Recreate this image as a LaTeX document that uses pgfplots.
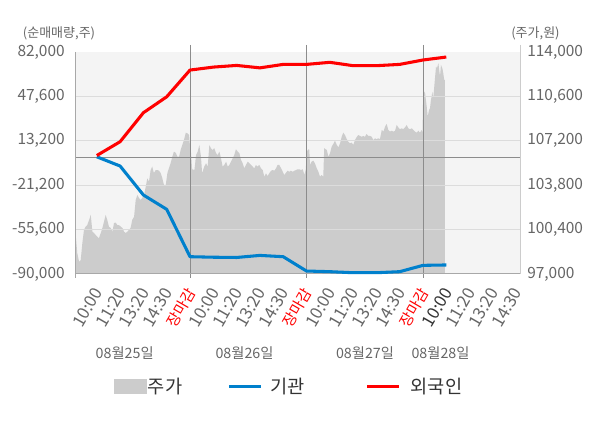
\documentclass[border=0pt]{standalone}
\usepackage{pgfplots}
\pgfplotsset{compat=1.18}
\usepackage{fontspec}
\setmainfont{Noto Sans CJK KR}
\definecolor{areagray}{HTML}{CCCCCC}
\definecolor{bggray}{HTML}{F4F4F4}
\definecolor{gridgray}{HTML}{DCDCDC}
\definecolor{sepgray}{HTML}{8C8C8C}
\definecolor{axgray}{HTML}{A8A8A8}
\definecolor{raxgray}{HTML}{CCCCCC}
\definecolor{labgray}{HTML}{666666}
\definecolor{darktext}{HTML}{333333}
\definecolor{instblue}{HTML}{0080CC}
\definecolor{forred}{HTML}{FF0000}
\newcommand{\ma}{{\color{forred}\fontsize{11.2pt}{13pt}\selectfont 장마감}}
\pgfplotsset{
  linelegend/.style={legend image code/.code={\draw[##1] (0pt,0pt) -- (24pt,0pt);}},
  boxlegend/.style={legend image code/.code={\fill[areagray] (0pt,-5.25pt) rectangle (24pt,5.25pt);}},
  base/.style={scale only axis, width=333pt, height=166.5pt,
  at={(57pt,115.5pt)}, anchor=south west, xmin=0.107, xmax=19.163,
  scaled y ticks=false, scaled x ticks=false,
  axis line style={draw=none}, tick style={draw=none}, major tick length=0pt}}
\begin{document}
\begin{tikzpicture}
\path[use as bounding box] (0,0) rectangle (450pt,321pt);
% price area (right axis)
\begin{axis}[base, ymin=97000, ymax=114000,
  axis background/.style={fill=bggray},
  xtick=\empty,
  ytick={97000,100400,103800,107200,110600,114000},
  yticklabels={{97,000},{100,400},{103,800},{107,200},{110,600},{114,000}},
  yticklabel pos=right,
  yticklabel style={anchor=west, inner sep=0pt, xshift=5.25pt, text=labgray,
    font=\fontsize{11.6pt}{13pt}\selectfont}]
\addplot[fill=areagray, draw=none] coordinates {
(0.107,97000)(0.107,99730)(0.16,98610)(0.24,97940)(0.31,98070)(0.38,99370)(0.45,100370)(0.52,100620)
(0.59,100750)(0.67,101140)(0.74,101520)(0.81,100240)(0.88,100140)(0.95,99990)(1.02,99860)
(1.09,99730)(1.17,100140)(1.24,100520)(1.31,101010)(1.38,101520)(1.45,101140)(1.52,100620)
(1.60,100520)(1.67,100240)(1.74,100910)(1.81,100930)(1.88,100750)(1.95,100750)(2.03,100620)
(2.10,100520)(2.17,100240)(2.24,100140)(2.31,100240)(2.38,100370)(2.45,100520)(2.52,101140)
(2.60,101390)(2.67,102670)(2.74,103050)(2.81,102820)(2.88,102670)(2.95,102820)(3.03,103050)
(3.10,103690)(3.17,104330)(3.24,104070)(3.31,104960)(3.38,105220)(3.45,104730)(3.53,104960)
(3.60,104960)(3.67,104910)(3.74,104730)(3.81,104350)(3.88,103820)(3.96,103820)(4.03,104730)
(4.10,105120)(4.17,105500)(4.24,105980)(4.31,106370)(4.39,106270)(4.46,105980)(4.53,105980)
(4.60,106500)(4.67,106880)(4.74,107260)(4.82,107820)(4.89,107770)(4.96,107640)(5.00,106750)
(5.04,106370)(5.09,105020)(5.19,104960)(5.26,106110)(5.33,106370)(5.40,106880)(5.47,105980)
(5.52,104710)(5.61,105220)(5.69,105480)(5.76,105220)(5.83,106880)(5.90,106630)(5.97,106500)
(6.04,106630)(6.12,106240)(6.19,106110)(6.26,106370)(6.33,105860)(6.40,105220)(6.47,105350)
(6.55,105600)(6.62,105220)(6.69,105350)(6.76,105600)(6.83,105860)(6.90,106110)(6.97,106550)
(7.05,106370)(7.12,106240)(7.19,105730)(7.26,105480)(7.33,105090)(7.40,105350)(7.48,105600)
(7.55,105480)(7.62,105350)(7.69,105220)(7.76,105090)(7.83,105350)(7.90,105220)(7.97,105350)
(8.05,105090)(8.12,104960)(8.19,104450)(8.26,104710)(8.33,104500)(8.40,104710)(8.48,104910)
(8.55,104960)(8.62,104910)(8.69,105090)(8.76,105350)(8.83,105350)(8.91,105090)(8.98,104830)
(9.05,104580)(9.12,104760)(9.19,104910)(9.26,104830)(9.33,104910)(9.41,104830)(9.48,104910)
(9.55,104960)(9.62,105020)(9.69,105020)(9.76,104960)(9.84,105020)(9.91,104580)(9.97,105020)
(10.01,106370)(10.08,106550)(10.12,106500)(10.15,105350)(10.22,105600)(10.29,105680)(10.36,105480)
(10.44,105090)(10.51,104830)(10.58,104450)(10.65,104580)(10.72,104450)(10.76,106630)(10.87,106500)
(10.94,105980)(11.01,106240)(11.08,106750)(11.15,106960)(11.22,107210)(11.30,106880)(11.37,106700)
(11.44,107010)(11.51,107510)(11.58,107820)(11.65,107640)(11.73,107320)(11.79,107130)(11.87,107010)
(11.94,107060)(12.01,106880)(12.08,107260)(12.15,107470)(12.22,107640)(12.30,107570)(12.37,107510)
(12.44,107570)(12.51,107510)(12.58,107720)(12.65,107570)(12.73,107570)(12.80,107510)(12.87,107260)
(12.94,107390)(13.01,107320)(13.08,107390)(13.15,107320)(13.23,108030)(13.30,107900)(13.37,108280)
(13.44,108490)(13.51,108030)(13.58,107900)(13.66,107970)(13.73,107900)(13.80,107970)(13.87,108410)
(13.94,108230)(14.01,108080)(14.09,108160)(14.15,108080)(14.23,108230)(14.30,108410)(14.37,108160)
(14.44,108080)(14.52,108160)(14.58,108030)(14.66,107900)(14.73,107820)(14.80,107970)(14.87,107820)
(14.94,108030)(14.98,107820)(15.01,111090)(15.09,110840)(15.16,109810)(15.20,109050)(15.26,109560)
(15.30,109690)(15.34,110330)(15.37,110580)(15.40,110960)(15.44,110460)(15.52,112110)(15.56,112880)
(15.60,112750)(15.66,113140)(15.73,112110)(15.77,113010)(15.83,112750)(15.87,112370)(15.91,111860)
(15.94,111860)(15.94,97000)} \closedcycle;
\end{axis}
% net buying lines (left axis)
\begin{axis}[base, ymin=-90000, ymax=82000, clip=false,
  ytick={-90000,-55600,-21200,13200,47600,82000},
  yticklabels={{-90,000},{-55,600},{-21,200},{13,200},{47,600},{82,000}},
  yticklabel pos=left,
  yticklabel style={anchor=east, inner sep=0pt, xshift=-8.25pt, text=labgray,
    font=\fontsize{11.6pt}{13pt}\selectfont},
  xtick={1,...,19},
  xticklabels={10:00,11:20,13:20,14:30,\ma,10:00,11:20,13:20,14:30,\ma,
    10:00,11:20,13:20,14:30,\ma,{\color{darktext}10:00},11:20,13:20,14:30},
  xticklabel style={yshift=-11.5pt, xshift=1pt, rotate=60, anchor=east, inner sep=0pt,
    text=labgray, font=\fontsize{12.6pt}{14pt}\selectfont},
  legend columns=3,
  legend cell align=left,
  legend style={draw=none, fill=none, at={(0.0856,-0.507)}, anchor=west,
    inner sep=0pt, outer sep=0pt, column sep=0pt, text=darktext,
    font=\fontsize{14pt}{16pt}\selectfont, nodes={inner sep=0pt}}]
\draw[gridgray, line width=0.75pt] (axis cs:0.107,-55600) -- (axis cs:19.163,-55600);
\draw[gridgray, line width=0.75pt] (axis cs:0.107,-21200) -- (axis cs:19.163,-21200);
\draw[gridgray, line width=0.75pt] (axis cs:0.107,13200) -- (axis cs:19.163,13200);
\draw[gridgray, line width=0.75pt] (axis cs:0.107,47600) -- (axis cs:19.163,47600);
\draw[sepgray, line width=0.75pt] (axis cs:0.107,0) -- (axis cs:19.163,0);
\draw[sepgray, line width=0.75pt] ([yshift=5.25pt]axis cs:5,82000) -- ([yshift=-3pt]axis cs:5,-90000);
\draw[sepgray, line width=0.75pt] ([yshift=5.25pt]axis cs:10,82000) -- ([yshift=-3pt]axis cs:10,-90000);
\draw[sepgray, line width=0.75pt] ([yshift=5.25pt]axis cs:15,82000) -- ([yshift=-3pt]axis cs:15,-90000);
\draw[axgray, line width=0.75pt] (axis cs:0.107,82000) -- ([yshift=-3pt]axis cs:0.107,-90000);
\draw[axgray, line width=0.75pt] (axis cs:0.107,-90000) -- (axis cs:19.163,-90000);
\draw[raxgray, line width=0.75pt] ([yshift=5.25pt]axis cs:19.163,82000) -- (axis cs:19.163,-90000);
\addlegendimage{boxlegend}
\addlegendentry{\hspace*{1pt}주가\hspace*{34pt}}
\addplot[instblue, line width=2.3pt, line join=round, linelegend] coordinates {
(1,800)(2,-6350)(3,-28800)(4,-39900)(5,-76600)(6,-77000)(7,-77200)(8,-75600)
(9,-76600)(10,-87700)(11,-88200)(12,-89000)(13,-89000)(14,-88200)(15,-83300)(16,-83000)};
\addlegendentry{\hspace*{6pt}기관\hspace*{45.5pt}}
\addplot[forred, line width=2.3pt, line join=round, linelegend] coordinates {
(1,1800)(2,12500)(3,34950)(4,47300)(5,68000)(6,70300)(7,71600)(8,69700)
(9,72400)(10,72400)(11,74000)(12,71400)(13,71400)(14,72400)(15,75800)(16,78100)};
\addlegendentry{\hspace*{7.5pt}외국인}
\end{axis}
\node[anchor=west, text=labgray, font=\fontsize{9.75pt}{11pt}\selectfont, inner sep=0pt] at (17pt,296pt) {(순매매량,주)};
\node[anchor=center, text=labgray, font=\fontsize{9.75pt}{11pt}\selectfont, inner sep=0pt] at (401.6pt,296pt) {(주가,원)};
\node[anchor=center, text=labgray, font=\fontsize{10.7pt}{12pt}\selectfont, inner sep=0pt] at (93.5pt,56.25pt) {08월25일};
\node[anchor=center, text=labgray, font=\fontsize{10.7pt}{12pt}\selectfont, inner sep=0pt] at (183.4pt,56.25pt) {08월26일};
\node[anchor=center, text=labgray, font=\fontsize{10.7pt}{12pt}\selectfont, inner sep=0pt] at (273.75pt,56.25pt) {08월27일};
\node[anchor=center, text=labgray, font=\fontsize{10.7pt}{12pt}\selectfont, inner sep=0pt] at (330.4pt,56.25pt) {08월28일};
\end{tikzpicture}
\end{document}
